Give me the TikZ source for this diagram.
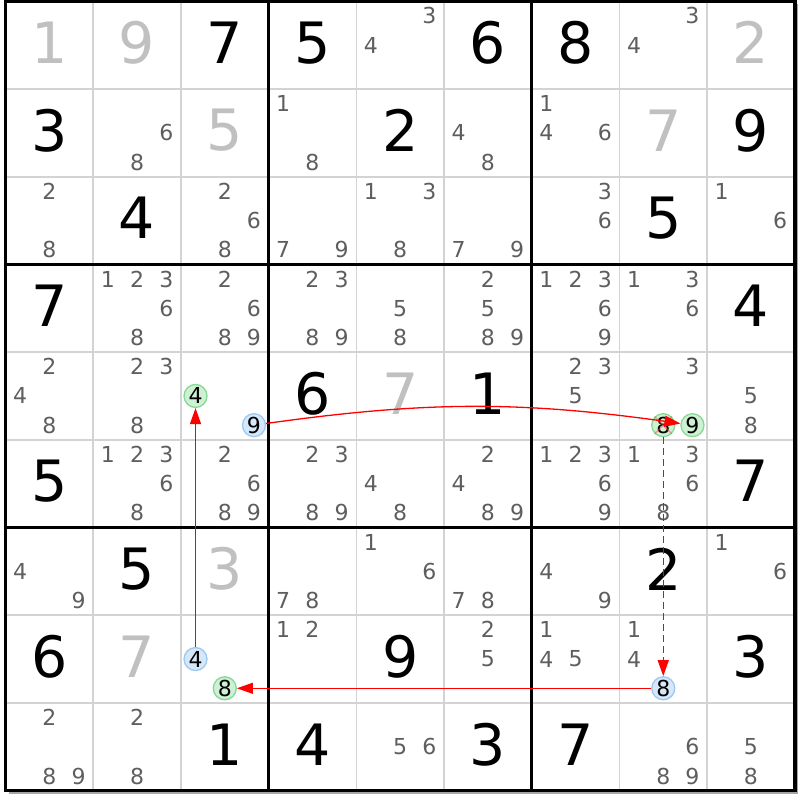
\documentclass[tikz,border=0pt]{standalone}
\usepackage{fontspec}
\setmainfont{DejaVu Sans}
\usetikzlibrary{arrows.meta}
\definecolor{candgray}{HTML}{5E5E5E}
\definecolor{solvedgray}{HTML}{C0C0C0}
\definecolor{gridgray}{HTML}{D3D3D3}
\definecolor{pickblue}{HTML}{9CC9F2}
\definecolor{pickbluefill}{HTML}{D5E8FA}
\definecolor{pickgreen}{HTML}{86D995}
\definecolor{pickgreenfill}{HTML}{CFF1D3}
\definecolor{linkred}{HTML}{FF0000}
\def\cellw{87.7}
\def\ox{5.5}
\def\oy{1.3}
\begin{document}
\begin{tikzpicture}[x=1pt,y=-1pt,
	given/.style={font=\fontsize{57}{57}\selectfont,inner sep=0},
	solved/.style={given,text=solvedgray},
	cand/.style={font=\fontsize{22}{22}\selectfont,text=candgray,inner sep=0},
	pick/.style={circle,draw=pickblue,fill=pickbluefill,line width=1.3pt,minimum size=23pt,inner sep=0,font=\fontsize{22}{22}\selectfont},
	target/.style={pick,draw=pickgreen,fill=pickgreenfill},
	link/.style={draw=linkred,line width=1.3pt,-{Triangle[length=16pt,width=11pt,fill=linkred]}}]
	\useasboundingbox (0,0) rectangle (800,800);
	\fill[white] (0,0) rectangle (800,800);
	\foreach \i in {1,2,4,5,7,8}{
		\draw[gridgray,line width=1.6pt] (\ox+\i*\cellw,\oy) -- (\ox+\i*\cellw,\oy+9*\cellw);
		\draw[gridgray,line width=1.6pt] (\ox,\oy+\i*\cellw) -- (\ox+9*\cellw,\oy+\i*\cellw);
	}
	\draw[black!35,line width=1.5pt] (\ox+9*\cellw+2.5,\oy+3) -- (\ox+9*\cellw+2.5,\oy+9*\cellw+2.5) -- (\ox+3,\oy+9*\cellw+2.5);
	\foreach \i in {3,6}{
		\draw[line width=3pt] (\ox+\i*\cellw,\oy) -- (\ox+\i*\cellw,\oy+9*\cellw);
		\draw[line width=3pt] (\ox,\oy+\i*\cellw) -- (\ox+9*\cellw,\oy+\i*\cellw);
	}
	\draw[line width=3.5pt] (\ox,\oy) rectangle (\ox+9*\cellw,\oy+9*\cellw);
	%givens and placed values
	\foreach \row/\col/\d in {0/2/7,0/3/5,0/5/6,0/6/8,1/0/3,1/4/2,1/8/9,2/1/4,2/7/5,3/0/7,3/8/4,4/3/6,4/5/1,5/0/5,5/8/7,6/1/5,6/7/2,7/0/6,7/4/9,7/8/3,8/2/1,8/3/4,8/5/3,8/6/7}
		\node[given] (g\row\col) at ({\ox+(\col+.5)*\cellw},{\oy+(\row+.5)*\cellw-2.5}) {\d};
	\foreach \row/\col/\d in {0/0/1,0/1/9,0/8/2,1/2/5,1/7/7,4/4/7,6/2/3,7/1/7}
		\node[solved] (g\row\col) at ({\ox+(\col+.5)*\cellw},{\oy+(\row+.5)*\cellw-2.5}) {\d};
	%pencil marks
	\foreach \row/\col/\ds in {0/4/{3,4},0/7/{3,4},
		1/1/{6,8},1/3/{1,8},1/5/{4,8},1/6/{1,4,6},
		2/0/{2,8},2/2/{2,6,8},2/3/{7,9},2/4/{1,3,8},2/5/{7,9},2/6/{3,6},2/8/{1,6},
		3/1/{1,2,3,6,8},3/2/{2,6,8,9},3/3/{2,3,8,9},3/4/{5,8},3/5/{2,5,8,9},3/6/{1,2,3,6,9},3/7/{1,3,6},
		4/0/{2,4,8},4/1/{2,3,8},4/6/{2,3,5},4/7/{3},4/8/{5,8},
		5/1/{1,2,3,6,8},5/2/{2,6,8,9},5/3/{2,3,8,9},5/4/{4,8},5/5/{2,4,8,9},5/6/{1,2,3,6,9},5/7/{1,3,6,8},
		6/0/{4,9},6/3/{7,8},6/4/{1,6},6/5/{7,8},6/6/{4,9},6/8/{1,6},
		7/3/{1,2},7/5/{2,5},7/6/{1,4,5},7/7/{1,4},
		8/0/{2,8,9},8/1/{2,8},8/4/{5,6},8/7/{6,8,9},8/8/{5,8}}
		\foreach \k in \ds
			\node[cand] (r\row c\col n\k) at ({\ox+(\col+(2*mod(\k-1,3)+1)/6)*\cellw},{\oy+(\row+(2*int((\k-1)/3)+1)/6)*\cellw}) {\k};
	\foreach \row/\col/\k/\sty in {4/2/4/target,4/2/9/pick,4/7/8/target,4/7/9/target,7/2/4/pick,7/2/8/target,7/7/8/pick}
		\node[\sty] (r\row c\col n\k) at ({\ox+(\col+(2*mod(\k-1,3)+1)/6)*\cellw},{\oy+(\row+(2*int((\k-1)/3)+1)/6)*\cellw}) {\k};
	\draw[red!70,opacity=.45,line width=1.6pt] (r4c7n8.135) -- (r4c7n8.-45) (r4c7n8.45) -- (r4c7n8.-135);
	\draw[link] (r7c2n4) -- (r4c2n4);
	\draw[link] (r4c2n9) to[bend left=8] (r4c7n9);
	\draw[link,dash pattern=on 7pt off 4pt] (r4c7n8) -- (r7c7n8);
	\draw[link] (r7c7n8) -- (r7c2n8);
\end{tikzpicture}
\end{document}
